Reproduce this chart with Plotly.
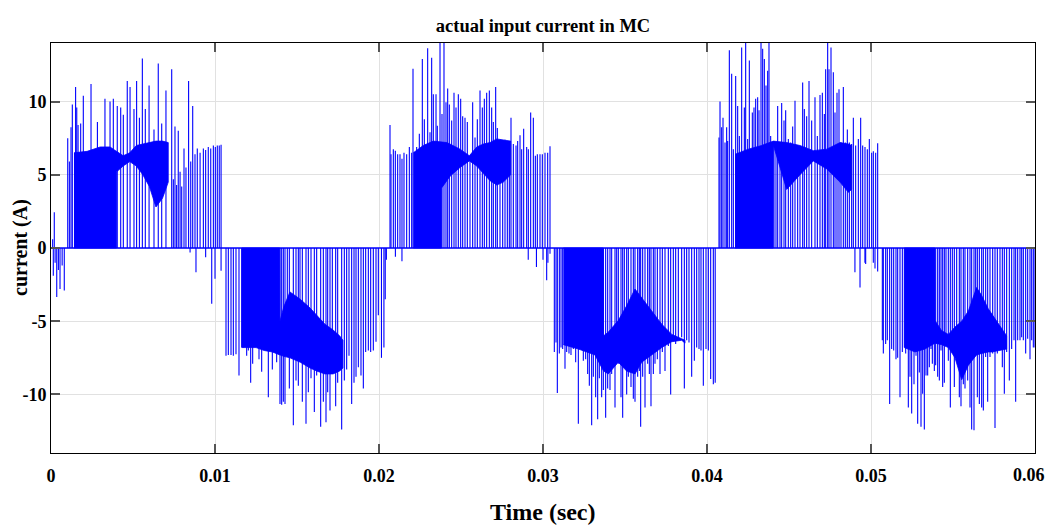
import plotly.graph_objects as go

# ---------------- data ----------------
# isolated switching pulses: time (s) and peak current (A); each pulse drawn from 0
h1_t = [0.00102,0.00112,0.00122,0.0013,0.0015,0.00157,0.00165,0.00181,0.00197,0.00244,0.00283,0.00329,0.0036,0.0038,0.00404,0.00425,0.00441,0.00465,0.00482,0.00506,0.00522,0.00539,0.00557,0.00575,0.00598,0.00628,0.00654,0.00675,0.00701,0.00736,0.00746,0.00756,0.00766,0.00776,0.00787,0.00797,0.00811,0.00823,0.00839,0.00852,0.00864,0.00878,0.00892,0.00909,0.00929,0.00943,0.00959,0.00974,0.0099,0.01002,0.01014,0.01026,0.01037]
h1_v = [7.5,5.9,8.25,9.8,11.0,9.6,8.4,8.5,10.4,11.2,8.6,10.2,10.0,10.2,9.7,9.6,9.1,11.4,11.0,9.5,11.4,8.9,12.95,9.5,11.1,8.1,12.6,8.5,10.75,12.2,4.7,8.3,4.3,8.0,5.2,4.2,6.8,5.5,11.4,5.9,9.7,6.4,6.8,6.5,6.8,6.7,6.9,6.8,7.0,6.9,7.0,7.0,7.05]

h2_t = [0.010671,0.010813,0.010976,0.011118,0.01128,0.011463,0.011626,0.011728,0.011931,0.012033,0.012175,0.012297,0.012439,0.012581,0.012683,0.012846,0.013008,0.013252,0.013354,0.013496,0.013618,0.01376,0.013963,0.014065,0.014167,0.014268,0.01441,0.014533,0.014776,0.014939,0.015081,0.015183,0.015325,0.015549,0.015691,0.015854,0.016057,0.016199,0.016443,0.016606,0.016768,0.01687,0.017012,0.017154,0.017358,0.01748,0.017724,0.017886,0.018028,0.018171,0.018333,0.018476,0.018598,0.01874,0.018902,0.019045,0.019187,0.01935,0.019492,0.019654,0.019817,0.019959,0.02015,0.0203,0.02038]
h2_v = [-7.35,-7.3,-7.3,-7.35,-7.25,-8.7,-6.8,-6.8,-7.35,-7.0,-9.2,-7.9,-6.4,-6.55,-7.6,-8.45,-6.7,-10.2,-6.7,-8.3,-6.9,-7.8,-10.65,-10.7,-10.5,-10.65,-7.0,-9.6,-12.1,-9.05,-9.4,-7.7,-10.5,-12.0,-9.85,-8.9,-11.2,-8.7,-12.2,-10.5,-11.9,-9.85,-11.1,-8.1,-10.8,-9.2,-12.4,-9.05,-8.3,-7.35,-10.65,-9.2,-8.8,-8.15,-8.7,-9.6,-7.1,-7.0,-7.1,-7.0,-6.4,-4.6,-7.5,-6.8,-3.5]

h3_t = [0.020671,0.020732,0.020874,0.020996,0.021138,0.02128,0.021402,0.021524,0.021687,0.02185,0.021992,0.022073,0.022297,0.022459,0.022642,0.022764,0.022967,0.02311,0.023211,0.023313,0.023476,0.023557,0.02372,0.023841,0.023963,0.024085,0.024187,0.024289,0.024431,0.024573,0.024695,0.024837,0.02498,0.025102,0.025244,0.025386,0.025549,0.025711,0.025854,0.025996,0.026159,0.026301,0.026423,0.026565,0.026728,0.02687,0.026972,0.027114,0.027215,0.027378,0.027541,0.027683,0.027825,0.027947,0.028049,0.028191,0.028354,0.028455,0.028598,0.028699,0.028821,0.029004,0.029106,0.029248,0.029411,0.029533,0.029654,0.029817,0.029959,0.030122,0.030285,0.030427]
h3_v = [8.4,6.4,6.75,6.65,6.4,6.4,6.1,6.5,6.4,6.9,6.5,12.25,6.9,7.8,12.9,8.8,13.65,7.9,13.0,10.5,10.5,8.35,14.5,9.15,14.5,9.95,10.9,9.8,8.7,10.6,9.6,10.5,10.2,9.0,8.9,8.6,6.3,9.95,7.55,8.8,10.75,9.6,10.2,10.6,10.75,9.6,8.6,11.0,8.2,7.4,7.3,7.4,7.1,7.3,8.9,7.1,7.0,7.3,7.7,6.75,8.15,6.9,6.75,9.25,8.9,6.3,6.4,6.4,6.4,6.5,6.5,6.95]

h4_t = [0.030224,0.030427,0.030691,0.030793,0.030874,0.030996,0.031098,0.031199,0.031341,0.031443,0.031585,0.031707,0.03185,0.031992,0.032155,0.032317,0.032459,0.032602,0.032724,0.032825,0.032967,0.033069,0.033211,0.033333,0.033435,0.033577,0.033679,0.033821,0.033943,0.034085,0.034187,0.03439,0.034492,0.034593,0.034756,0.034858,0.034959,0.035102,0.035203,0.035366,0.035508,0.03561,0.035772,0.035874,0.035955,0.036077,0.03622,0.036382,0.036484,0.036585,0.036728,0.036829,0.036972,0.037134,0.037276,0.037439,0.037642,0.037785,0.037947,0.038089,0.038252,0.038455,0.038618,0.03876,0.038902,0.039065,0.039228,0.03937,0.039512,0.039634,0.039776,0.039939,0.040081,0.040224,0.040386,0.0405]
h4_v = [-2.2,-0.4,-7.1,-6.45,-9.9,-7.2,-6.8,-6.9,-8.25,-7.1,-7.2,-7.3,-6.9,-7.8,-12.0,-6.9,-7.7,-7.6,-8.6,-9.4,-12.1,-8.8,-10.2,-11.7,-8.9,-10.2,-9.7,-11.6,-9.6,-9.7,-8.6,-10.9,-6.9,-7.9,-10.2,-11.6,-8.0,-10.0,-8.8,-9.5,-10.3,-10.5,-8.8,-8.4,-12.2,-8.8,-10.9,-7.9,-8.6,-10.8,-8.6,-7.9,-7.6,-8.6,-7.1,-8.4,-6.7,-10.0,-6.1,-6.55,-6.3,-6.1,-9.6,-6.3,-6.45,-8.8,-7.7,-6.8,-6.9,-7.0,-9.4,-6.9,-7.0,-8.95,-9.3,-9.2]

h5_t = [0.040732,0.040793,0.040894,0.040976,0.041098,0.041199,0.04126,0.041362,0.041504,0.041606,0.041748,0.04187,0.041972,0.042114,0.042276,0.042358,0.04248,0.042581,0.042764,0.042866,0.042967,0.043089,0.043171,0.043293,0.043394,0.043496,0.043598,0.043699,0.04378,0.043882,0.044085,0.044207,0.044309,0.044451,0.044553,0.044695,0.044797,0.044959,0.045102,0.045224,0.045366,0.045528,0.045671,0.045833,0.045935,0.046077,0.04622,0.046382,0.046585,0.046728,0.04689,0.047033,0.047154,0.047236,0.047358,0.047439,0.047561,0.047703,0.047805,0.047927,0.048049,0.048171,0.048313,0.048435,0.048557,0.048679,0.048821,0.048923,0.049065,0.049228,0.04937,0.049492,0.049634,0.049776,0.049898,0.050041,0.050142,0.050285,0.050407]
h5_v = [7.55,10.0,8.25,8.9,7.2,8.25,7.3,13.5,11.9,6.75,11.75,9.7,7.65,13.7,9.6,14.5,7.45,12.8,9.25,9.6,10.2,10.3,9.4,14.5,13.6,12.9,11.1,12.1,14.5,7.65,7.3,7.2,9.7,7.2,9.9,8.7,9.4,7.45,7.2,8.3,10.05,7.0,6.75,11.3,9.5,9.0,11.4,8.7,10.3,7.65,10.45,10.6,9.15,12.2,14.5,12.2,13.7,12.0,9.25,10.6,10.85,7.2,11.0,7.2,8.1,7.2,7.1,8.9,7.0,7.45,8.9,7.0,6.9,6.75,7.45,6.5,6.6,6.5,7.15]

h6_t = [0.049675,0.050244,0.050407,0.050691,0.050752,0.050894,0.050996,0.051138,0.05126,0.051382,0.051524,0.051626,0.051768,0.051911,0.052033,0.052114,0.052276,0.052378,0.05248,0.052622,0.052744,0.052846,0.052947,0.053049,0.05315,0.053252,0.053354,0.053455,0.053557,0.053659,0.05374,0.053862,0.053943,0.054065,0.054167,0.054268,0.05437,0.054472,0.054573,0.054715,0.054837,0.054959,0.055081,0.055224,0.055386,0.055488,0.05563,0.055732,0.055894,0.056037,0.056138,0.05628,0.056382,0.056484,0.056606,0.056748,0.05685,0.056992,0.057114,0.057256,0.057419,0.057561,0.057703,0.057866,0.058008,0.05813,0.058272,0.058435,0.058577,0.05872,0.058821,0.058943,0.059085,0.059187,0.059289,0.059431,0.059553,0.059695,0.059797,0.059898,0.06]
h6_v = [-1.1,-1.4,-1.6,-6.3,-7.2,-6.55,-6.3,-10.65,-6.9,-7.0,-7.6,-7.5,-10.2,-7.1,-6.8,-7.2,-10.9,-8.8,-11.3,-9.3,-7.35,-12.0,-8.5,-12.2,-9.95,-12.4,-8.7,-8.7,-8.15,-6.9,-7.9,-8.4,-8.0,-8.8,-9.05,-7.0,-9.5,-9.2,-6.55,-7.7,-10.9,-6.8,-9.5,-7.7,-10.2,-10.8,-9.3,-9.6,-9.05,-10.9,-12.4,-12.45,-7.2,-10.2,-10.65,-10.9,-11.1,-7.45,-10.5,-7.45,-7.2,-12.3,-7.2,-6.9,-8.15,-9.95,-7.1,-9.05,-6.9,-6.3,-10.5,-6.3,-6.3,-6.1,-6.3,-7.2,-6.2,-7.6,-6.3,-6.8,-6.8]

# small opposite-polarity blips near the zero crossings
tail_t = [0.0001,0.00014,0.0002,0.00025,0.00035,0.00045,0.00055,0.00068,0.00081,0.00848,0.00884,0.00943,0.0098,0.0100,0.01037,0.02045,0.0210,0.0214,0.0291,0.0296,0.0300,0.0303,0.04902,0.04933,0.04963,0.05014]
tail_v = [0.6,-1.9,2.45,-1.0,-3.35,-1.5,-2.8,-1.2,-2.9,-0.3,-1.66,-0.64,-3.8,-2.1,-1.55,-0.8,-0.6,-0.9,-0.8,-1.3,-0.8,-1.0,-1.66,-2.7,-1.0,-1.0]

# densely switched band of each half cycle: time, outer edge, inner edge (A)
b1_t  = [0.0014,0.0022,0.0030,0.0036,0.00399,0.0040,0.0044,0.0048,0.0052,0.0056,0.0060,0.0064,0.0068,0.00715]
b1_hi = [6.5,6.6,6.9,6.9,6.6,6.6,6.3,6.5,7.0,7.1,7.2,7.3,7.3,7.2]
b1_lo = [0,0,0,0,0,5.2,5.6,5.9,5.6,5.0,4.2,2.8,3.4,4.5]

b2_t  = [0.01163,0.0125,0.0130,0.0135,0.01395,0.01396,0.0142,0.01457,0.0152,0.0158,0.0162,0.0167,0.0172,0.0176,0.0178]
b2_hi = [-6.8,-6.8,-7.0,-7.1,-7.3,-7.3,-7.4,-7.5,-7.8,-8.2,-8.4,-8.6,-8.6,-8.4,-8.2]
b2_lo = [0,0,0,0,0,-5.0,-4.0,-3.0,-3.5,-4.1,-4.6,-5.2,-5.6,-6.0,-6.3]

b3_t  = [0.02209,0.02270,0.02331,0.02381,0.02382,0.02413,0.02433,0.02494,0.02551,0.02596,0.02636,0.02677,0.02718,0.02758,0.02803]
b3_hi = [6.5,7.0,7.3,7.25,7.25,7.2,7.1,6.75,6.3,6.9,7.1,7.2,7.45,7.4,7.3]
b3_lo = [0,0,0,0,4.1,4.6,4.9,5.5,5.95,5.6,5.1,4.6,4.3,4.5,5.0]

b4_t  = [0.03124,0.03216,0.03317,0.03368,0.03369,0.03398,0.03459,0.03510,0.03561,0.03602,0.03663,0.03724,0.03785,0.03846,0.03866]
b4_hi = [-6.6,-6.9,-7.3,-8.4,-8.4,-8.6,-7.8,-8.4,-8.6,-7.8,-7.3,-6.8,-6.4,-6.3,-6.5]
b4_lo = [0,0,0,0,-6.0,-5.75,-4.95,-3.95,-2.8,-3.4,-4.3,-5.2,-5.9,-6.2,-6.3]

b5_t  = [0.04171,0.04252,0.04333,0.04404,0.04405,0.04486,0.04567,0.04648,0.04730,0.04811,0.04862,0.04882]
b5_hi = [6.4,6.75,7.0,7.3,7.3,7.2,7.0,6.65,6.75,7.2,7.1,7.0]
b5_lo = [0,0,0,0,7.0,4.0,5.0,5.95,5.4,4.5,3.8,4.0]

b6_t  = [0.05203,0.05268,0.05329,0.05389,0.05390,0.05431,0.05472,0.05512,0.05553,0.05594,0.05644,0.05675,0.05715,0.05736,0.05797,0.05827]
b6_hi = [-6.8,-7.1,-6.9,-6.5,-6.5,-6.6,-6.8,-7.5,-9.0,-8.0,-7.3,-7.2,-7.1,-7.1,-7.0,-6.9]
b6_lo = [0,0,0,0,-4.95,-5.65,-5.9,-5.4,-5.0,-4.3,-2.7,-3.25,-4.15,-4.5,-5.5,-6.0]

x_ticks = [0, 0.01, 0.02, 0.03, 0.04, 0.05, 0.06]
x_tick_text = ["0", "0.01", "0.02", "0.03", "0.04", "0.05", "0.06"]
y_ticks = [-10, -5, 0, 5, 10]
y_tick_text = ["-10", "-5", "0", "5", "10"]

# ---------------- figure ----------------
BLUE = "#0000ff"
FONT = "Liberation Serif, Times New Roman, serif"
W, H = 1049, 525

fig = go.Figure()

bands = [(b1_t, b1_hi, b1_lo), (b2_t, b2_hi, b2_lo), (b3_t, b3_hi, b3_lo),
         (b4_t, b4_hi, b4_lo), (b5_t, b5_hi, b5_lo), (b6_t, b6_hi, b6_lo)]
for bt, bh, bl in bands:
    assert len(bt) == len(bh) == len(bl)
    fig.add_trace(go.Scatter(
        x=list(bt) + list(bt[::-1]), y=list(bh) + list(bl[::-1]),
        fill="toself", fillcolor=BLUE, mode="lines",
        line=dict(color=BLUE, width=0.8), hoverinfo="skip"))

sx, sy = [], []
for tt, vv in [(h1_t, h1_v), (h2_t, h2_v), (h3_t, h3_v), (h4_t, h4_v),
               (h5_t, h5_v), (h6_t, h6_v), (tail_t, tail_v)]:
    assert len(tt) == len(vv)
    for t, v in zip(tt, vv):
        sx += [t, t, None]
        sy += [0, v, None]
fig.add_trace(go.Scatter(x=sx, y=sy, mode="lines",
                         line=dict(color=BLUE, width=1.1), hoverinfo="skip"))

# zero line of the trace
fig.add_trace(go.Scatter(x=[x_ticks[0], x_ticks[-1]], y=[0, 0], mode="lines",
                         line=dict(color=BLUE, width=1.6), hoverinfo="skip"))

TICKFONT = dict(family=FONT, size=18, color="black", weight="bold")
axis_common = dict(showline=True, linecolor="black", linewidth=1, mirror="ticks",
                   ticks="inside", ticklen=9, tickcolor="#555555", tickwidth=1.5,
                   showgrid=True, gridcolor="#e1e1e1", gridwidth=1, zeroline=False,
                   automargin=False, tickfont=TICKFONT)

# last x label is placed as an annotation so it stays inside the page edge
fig.update_xaxes(range=[0, 0.06], tickvals=x_ticks,
                 ticktext=x_tick_text[:-1] + [""],
                 ticklabelstandoff=6, **axis_common)
fig.update_yaxes(range=[-14, 14], tickvals=y_ticks, ticktext=y_tick_text,
                 ticklabelstandoff=0, **axis_common)

PLOT_L, PLOT_R, PLOT_T, PLOT_B = 51, 1035, 43, 453
pw, ph = PLOT_R - PLOT_L, PLOT_B - PLOT_T

fig.add_annotation(text=x_tick_text[-1], showarrow=False,
                   xref="paper", yref="paper", x=(W - 2 - PLOT_L) / pw,
                   y=(PLOT_B - 475) / ph, xanchor="right", yanchor="middle",
                   font=TICKFONT)
fig.add_annotation(text="current (A)", textangle=-90, showarrow=False,
                   xref="paper", yref="paper", x=(20 - PLOT_L) / pw, y=0.5,
                   xanchor="center", yanchor="middle",
                   font=dict(family=FONT, size=20, color="black", weight="bold"))
fig.add_annotation(text="Time (sec)", showarrow=False,
                   xref="paper", yref="paper", x=0.5, y=(PLOT_B - 512) / ph,
                   xanchor="center", yanchor="middle",
                   font=dict(family=FONT, size=24, color="black", weight="bold"))

fig.update_layout(
    width=W, height=H,
    margin=dict(l=PLOT_L, r=W - PLOT_R, t=PLOT_T, b=H - PLOT_B),
    paper_bgcolor="white", plot_bgcolor="white",
    showlegend=False,
    title=dict(text="actual input current in MC", x=0.5, xref="paper",
               y=1, yref="paper", yanchor="bottom", pad=dict(b=11),
               font=dict(family=FONT, size=18.5, color="black", weight="bold")),
)

fig.write_html("out.html", config={"displayModeBar": False},
               post_script="document.body.style.margin='0';")
